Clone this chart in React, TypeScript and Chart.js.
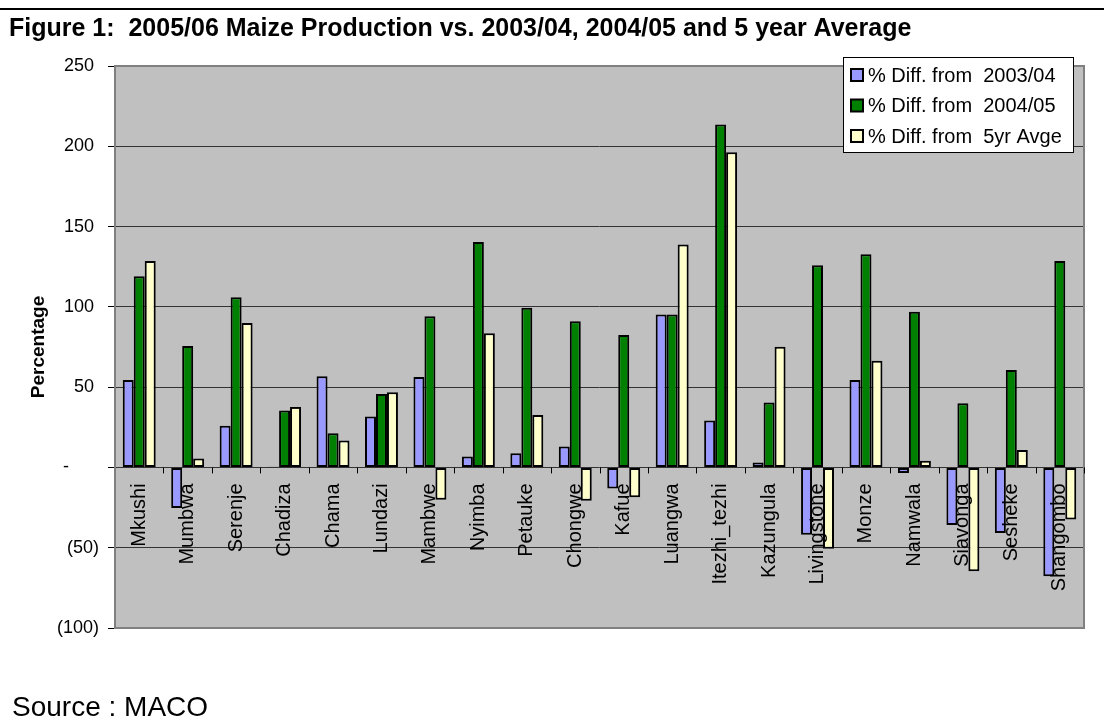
import React, { useEffect, useRef } from "react";
import { Chart, registerables } from "chart.js";

Chart.register(...registerables);

const categories = [
  "Mkushi", "Mumbwa", "Serenje", "Chadiza", "Chama", "Lundazi", "Mambwe",
  "Nyimba", "Petauke", "Chongwe", "Kafue", "Luangwa", "Itezhi_tezhi",
  "Kazungula", "Livingstone", "Monze", "Namwala", "Siavonga", "Sesheke", "Shangombo",
];

const diff0304 = [54.5, -25.2, 25.9, 0.5, 56.8, 31.7, 56.3, 6.8, 8.9, 13, -13.2, 95.3, 29.2, 3.1, -42, 54.5, -3.5, -35.8, -40.8, -67.7];
const diff0405 = [119, 75.6, 106, 35.4, 21.3, 45.8, 94.2, 140.4, 99.4, 91.1, 82.4, 95.3, 213.5, 40.4, 125.9, 132.7, 96.9, 40, 60.7, 128.6];
const diff5yr = [128.6, 5.6, 90, 37.7, 16.8, 46.8, -20.1, 83.5, 32.7, -20.7, -18.6, 138.8, 196.3, 75.2, -50.7, 66.5, 4.2, -64.6, 10.8, -32.5];

const seriesLabels = ["% Diff. from  2003/04", "% Diff. from  2004/05", "% Diff. from  5yr Avge"];
const seriesColors = ["#9999FF", "#008000", "#FFFFCC"];

const titleText = "Figure 1:  2005/06 Maize Production vs. 2003/04, 2004/05 and 5 year Average";
const sourceText = "Source : MACO";
const yTitle = "Percentage";

const FONT = "'Liberation Sans', Arial, Helvetica, sans-serif";

function tickLabel(v: number): string {
  if (v === 0) return "-      ";
  if (v < 0) return `(${-v})`;
  return `${v} `;
}

const decorPlugin = {
  id: "decor",
  beforeDraw(chart: any) {
    const { ctx, chartArea: a } = chart;
    ctx.save();
    ctx.fillStyle = "#ffffff";
    ctx.fillRect(0, 0, chart.width, chart.height);
    ctx.fillStyle = "#C0C0C0";
    ctx.fillRect(a.left, a.top, a.right - a.left, a.bottom - a.top);
    ctx.restore();
  },
  beforeDatasetsDraw(chart: any) {
    const { ctx, chartArea: a } = chart;
    ctx.save();
    ctx.strokeStyle = "#808080";
    ctx.lineWidth = 2;
    ctx.strokeRect(a.left, a.top, a.right - a.left, a.bottom - a.top);
    ctx.restore();
  },
  afterDatasetsDraw(chart: any) {
    const { ctx } = chart;
    const xs = chart.scales.x;
    const y0 = chart.scales.y.getPixelForValue(0);
    ctx.save();
    ctx.strokeStyle = "#000";
    ctx.lineWidth = 1;
    for (let i = 1; i <= categories.length; i++) {
      const x = Math.round(xs.getPixelForValue(i - 0.5)) + 0.5;
      ctx.beginPath();
      ctx.moveTo(x, y0);
      ctx.lineTo(x, y0 + 6);
      ctx.stroke();
    }
    ctx.fillStyle = "#000";
    ctx.font = `20px ${FONT}`;
    ctx.textAlign = "right";
    ctx.textBaseline = "middle";
    categories.forEach((c, i) => {
      const x = xs.getPixelForValue(i);
      ctx.save();
      ctx.translate(x, y0 + 16);
      ctx.rotate(-Math.PI / 2);
      ctx.fillText(c, 0, 0);
      ctx.restore();
    });
    ctx.restore();
  },
  afterDraw(chart: any) {
    const { ctx } = chart;
    ctx.save();
    ctx.fillStyle = "#000";
    ctx.fillRect(0, 8, chart.width, 2);
    ctx.font = `bold 25px ${FONT}`;
    ctx.textAlign = "left";
    ctx.textBaseline = "alphabetic";
    ctx.fillText(titleText, 9, 36);
    ctx.font = `28px ${FONT}`;
    ctx.fillText(sourceText, 12, 716);
    const lx = 843, ly = 57, lw = 230, lh = 95;
    ctx.fillStyle = "#fff";
    ctx.fillRect(lx, ly, lw, lh);
    ctx.strokeStyle = "#000";
    ctx.lineWidth = 1;
    ctx.strokeRect(lx + 0.5, ly + 0.5, lw, lh);
    ctx.font = `20px ${FONT}`;
    ctx.textBaseline = "middle";
    chart.data.datasets.forEach((ds: any, i: number) => {
      const cy = ly + 18 + i * 30.5;
      ctx.fillStyle = ds.backgroundColor;
      ctx.fillRect(851, cy - 6, 12, 12);
      ctx.lineWidth = 2;
      ctx.strokeStyle = "#000";
      ctx.strokeRect(851, cy - 6, 12, 12);
      ctx.fillStyle = "#000";
      ctx.fillText(ds.label, 868, cy + 1);
    });
    ctx.restore();
  },
};

export default function App() {
  const ref = useRef<HTMLCanvasElement>(null);

  useEffect(() => {
    document.body.style.margin = "0";
    const canvas = ref.current;
    if (!canvas) return;
    const chart = new Chart(canvas, {
      type: "bar",
      data: {
        labels: categories,
        datasets: [diff0304, diff0405, diff5yr].map((d, i) => ({
          label: seriesLabels[i],
          data: d,
          backgroundColor: seriesColors[i],
          borderColor: "#000",
          borderWidth: 2,
          borderSkipped: false,
          categoryPercentage: 0.68,
          barPercentage: 1,
        })),
      },
      options: {
        responsive: false,
        animation: false,
        devicePixelRatio: 1,
        layout: { padding: { left: 0, right: 20, top: 66, bottom: 93 } },
        plugins: {
          legend: { display: false },
          tooltip: { enabled: false },
          title: { display: false },
        },
        scales: {
          x: { display: false },
          y: {
            min: -100,
            max: 250,
            afterFit: (s: any) => { s.width = 115; },
            ticks: {
              stepSize: 50,
              padding: 9,
              color: "#000",
              font: { family: FONT, size: 18 },
              callback: (v: any) => tickLabel(Number(v)),
            },
            grid: {
              color: "#333",
              lineWidth: 1,
              tickColor: "#000",
              tickLength: 7,
              drawTicks: true,
            },
            border: { display: false },
            title: {
              display: true,
              text: yTitle,
              color: "#000",
              font: { family: FONT, size: 19, weight: "bold" },
              padding: { top: 27, bottom: 0 },
            },
          },
        },
      },
      plugins: [decorPlugin],
    });
    return () => chart.destroy();
  }, []);

  return (
    <div style={{ width: 1104, height: 721 }}>
      <canvas ref={ref} width={1104} height={721} style={{ display: "block" }} />
    </div>
  );
}
